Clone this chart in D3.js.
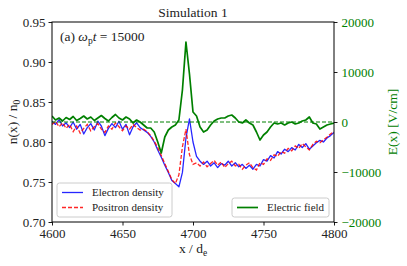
<!DOCTYPE html>
<html>
<head>
<meta charset="utf-8">
<script src="https://cdn.jsdelivr.net/npm/d3@7"></script>
<style>
body { margin: 0; background: #fff; }
text { font-family: "Liberation Serif", "Times New Roman", serif; }
</style>
</head>
<body>
<script>
var width = 407, height = 266;
var plotL = 52, plotR = 334, plotT = 22, plotB = 222;

// x grid of the samples (d_e), step 2.5
var xGrid = d3.range(4600, 4800.01, 2.5);

var xTicks = [4600, 4650, 4700, 4750, 4800];
var nTicks = [0.70, 0.75, 0.80, 0.85, 0.90, 0.95];
var eTicks = [-20000, -10000, 0, 10000, 20000];

// n(x)/n0
var electron = [
  0.826, 0.822, 0.828, 0.820, 0.824, 0.818, 0.825, 0.816, 0.822, 0.810,
  0.818, 0.823, 0.815, 0.826, 0.820, 0.808, 0.817, 0.823, 0.818, 0.826,
  0.816, 0.822, 0.809, 0.819, 0.824, 0.818, 0.815, 0.812, 0.807, 0.800,
  0.790, 0.781, 0.771, 0.762, 0.752, 0.748, 0.744, 0.762, 0.805, 0.829,
  0.800, 0.782, 0.776, 0.772, 0.776, 0.770, 0.774, 0.768, 0.773, 0.771,
  0.776, 0.770, 0.774, 0.769, 0.772, 0.767, 0.771, 0.766, 0.772, 0.770,
  0.778, 0.776, 0.783, 0.780, 0.788, 0.785, 0.791, 0.788, 0.793, 0.790,
  0.797, 0.793, 0.798, 0.791, 0.795, 0.799, 0.802, 0.800, 0.805, 0.808,
  0.812
];
var positron = [
  0.822, 0.826, 0.819, 0.824, 0.817, 0.822, 0.813, 0.820, 0.811, 0.817,
  0.822, 0.814, 0.819, 0.823, 0.816, 0.812, 0.820, 0.816, 0.824, 0.819,
  0.814, 0.820, 0.816, 0.822, 0.818, 0.815, 0.816, 0.813, 0.808, 0.801,
  0.793, 0.783, 0.773, 0.763, 0.753, 0.748, 0.759, 0.794, 0.816, 0.784,
  0.772, 0.774, 0.770, 0.775, 0.769, 0.773, 0.777, 0.771, 0.775, 0.768,
  0.773, 0.776, 0.770, 0.772, 0.766, 0.771, 0.774, 0.768, 0.765, 0.774,
  0.772, 0.779, 0.777, 0.784, 0.782, 0.788, 0.786, 0.792, 0.789, 0.795,
  0.792, 0.798, 0.794, 0.790, 0.797, 0.801, 0.799, 0.803, 0.806, 0.810,
  0.813
];
// E(x) in V/cm
var efield = [
  1200, 400, 800, 200, 900, 500, 1100, 300, 700, 1200,
  600, 1000, 300, 800, 1300, 700, 200, 900, 1500, 800,
  400, 1000, 600, -200, 400, 0, -600, -1200, -1200, -2000,
  -4000, -6200, -3000, -1600, -1000, -600, 400, 6400, 16000, 9600,
  2000, 1200, -1000, -2000, -1600, -600, 200, 600, 800, 800,
  1200, 1400, 800, 0, -200, 400, -200, -600, -2000, -3600,
  -2600, -2000, -1000, -200, -400, -200, -600, -200, 0, -400,
  -200, 200, 400, 1000, -200, -400, -1400, -1000, -600, -400,
  -200
];

var svg = d3.select("body").append("svg")
    .attr("width", width)
    .attr("height", height);

var x = d3.scaleLinear().domain([4600, 4800]).range([plotL, plotR]);
var yN = d3.scaleLinear().domain([0.70, 0.95]).range([plotB, plotT]);
var yE = d3.scaleLinear().domain([-20000, 20000]).range([plotB, plotT]);

svg.append("clipPath").attr("id", "plot")
  .append("rect").attr("x", plotL).attr("y", plotT)
  .attr("width", plotR - plotL).attr("height", plotB - plotT);

var lineN = function(vals) {
  return d3.line()
    .x(function(d, i) { return x(xGrid[i]); })
    .y(function(d) { return yN(d); })(vals);
};

var plot = svg.append("g").attr("clip-path", "url(#plot)");

plot.append("path").attr("d", lineN(electron))
    .attr("fill", "none").attr("stroke", "#0000ff").attr("stroke-opacity", 0.85)
    .attr("stroke-width", 1.3).attr("stroke-linejoin", "round");
plot.append("path").attr("d", lineN(positron))
    .attr("fill", "none").attr("stroke", "#ff0000").attr("stroke-opacity", 0.85)
    .attr("stroke-width", 1.3).attr("stroke-dasharray", "4,2");

plot.append("line")
    .attr("x1", plotL).attr("x2", plotR)
    .attr("y1", yE(0)).attr("y2", yE(0))
    .attr("stroke", "green").attr("stroke-width", 1)
    .attr("stroke-dasharray", "4,2");

plot.append("path")
    .attr("d", d3.line()
      .x(function(d, i) { return x(xGrid[i]); })
      .y(function(d) { return yE(d); })(efield))
    .attr("fill", "none").attr("stroke", "green")
    .attr("stroke-width", 1.7).attr("stroke-linejoin", "round");

// axes
var xAxis = svg.append("g").attr("transform", "translate(0," + plotB + ")")
    .call(d3.axisBottom(x).tickValues(xTicks).tickFormat(d3.format("d"))
      .tickSize(3.5).tickPadding(3.5));
var nAxis = svg.append("g").attr("transform", "translate(" + plotL + ",0)")
    .call(d3.axisLeft(yN).tickValues(nTicks).tickFormat(d3.format(".2f"))
      .tickSize(3.5).tickPadding(3));
var eAxis = svg.append("g").attr("transform", "translate(" + plotR + ",0)")
    .call(d3.axisRight(yE).tickValues(eTicks).tickFormat(d3.format("d"))
      .tickSize(3.5).tickPadding(4));

[xAxis, nAxis, eAxis].forEach(function(g) {
  g.attr("font-family", null).attr("font-size", null);
  g.selectAll("text").style("font-size", "13px").attr("fill", "#222");
  g.selectAll(".tick line").attr("stroke", "#000").attr("stroke-width", 0.9);
  g.select(".domain").remove();
});
eAxis.selectAll("text").attr("fill", "green");

// frame
svg.append("rect")
    .attr("x", plotL).attr("y", plotT)
    .attr("width", plotR - plotL).attr("height", plotB - plotT)
    .attr("fill", "none").attr("stroke", "#000").attr("stroke-width", 1);

// labels
svg.append("text").attr("x", (plotL + plotR) / 2).attr("y", 17)
    .attr("text-anchor", "middle").style("font-size", "13.5px").attr("fill", "#222")
    .text("Simulation 1");

var xl = svg.append("text").attr("x", (plotL + plotR) / 2).attr("y", 253)
    .attr("text-anchor", "middle").style("font-size", "13.5px").attr("fill", "#222");
xl.append("tspan").text("x / d");
xl.append("tspan").attr("dy", 3).style("font-size", "9.5px").text("e");

var yl = svg.append("text")
    .attr("transform", "translate(17," + (plotT + plotB) / 2 + ") rotate(-90)")
    .attr("text-anchor", "middle").style("font-size", "13.5px").attr("fill", "#222");
yl.append("tspan").text("n(x) / n");
yl.append("tspan").attr("dy", 3).style("font-size", "9.5px").text("0");

svg.append("text")
    .attr("transform", "translate(397," + (plotT + plotB) / 2 + ") rotate(-90)")
    .attr("text-anchor", "middle").style("font-size", "13.5px").attr("fill", "green")
    .text("E(x) [V/cm]");

var ann = svg.append("text").attr("x", 60).attr("y", 41)
    .style("font-size", "13.5px").attr("fill", "#222");
ann.append("tspan").text("(a) ");
ann.append("tspan").style("font-style", "italic").text("ω");
ann.append("tspan").attr("dy", 3).style("font-size", "9.5px").text("p");
ann.append("tspan").attr("dy", -3).style("font-style", "italic").text("t");
ann.append("tspan").text(" = 15000");

// legends
function legend(x0, y0, w, entries) {
  var g = svg.append("g");
  g.append("rect").attr("x", x0).attr("y", y0)
    .attr("width", w).attr("height", entries.length * 15 + 4)
    .attr("rx", 2.5).attr("fill", "#fff").attr("fill-opacity", 0.85)
    .attr("stroke", "#cccccc").attr("stroke-width", 1);
  entries.forEach(function(e, i) {
    var yy = y0 + 9.5 + i * 15;
    g.append("line").attr("x1", x0 + 5).attr("x2", x0 + 26)
      .attr("y1", yy).attr("y2", yy)
      .attr("stroke", e.color).attr("stroke-width", e.w)
      .attr("stroke-opacity", e.op)
      .attr("stroke-dasharray", e.dash || null);
    g.append("text").attr("x", x0 + 35).attr("y", yy + 3.8)
      .style("font-size", "11px").attr("fill", "#222").text(e.label);
  });
}
legend(57, 183, 115, [
  {label: "Electron density", color: "#0000ff", w: 1.3, op: 0.85},
  {label: "Positron density", color: "#ff0000", w: 1.3, op: 0.85, dash: "4,2"}
]);
legend(232, 198, 97, [
  {label: "Electric field", color: "green", w: 1.7, op: 1}
]);
</script>
</body>
</html>
